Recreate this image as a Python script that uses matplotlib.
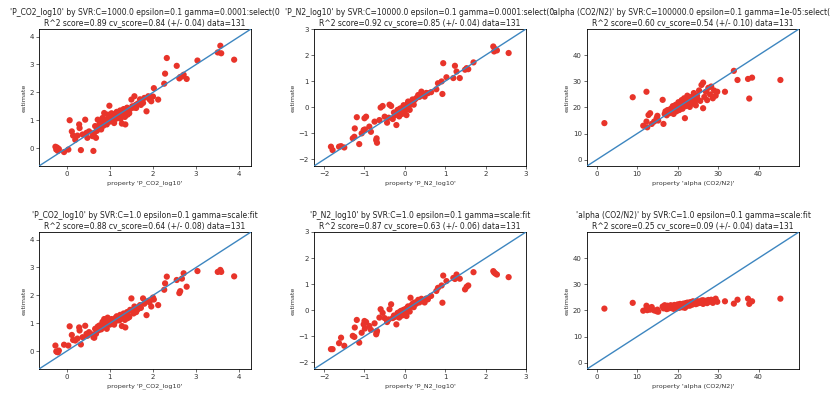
import matplotlib
matplotlib.use("Agg")
import matplotlib.pyplot as plt

# ---- column 1: P_CO2_log10 ----
co2_true = [-0.26, -0.24, -0.22, -0.20, -0.18, -0.06, 0.04, 0.07, 0.12, 0.15,
            0.20, 0.25, 0.29, 0.30, 0.33, 0.37, 0.43, 0.46, 0.48, 0.52,
            0.60, 0.62, 0.64, 0.66, 0.68, 0.70, 0.72, 0.74, 0.76, 0.78,
            0.80, 0.82, 0.83, 0.85, 0.87, 0.88, 0.90, 0.91, 0.93, 0.95,
            0.97, 0.99, 1.00, 1.02, 1.04, 1.06, 1.08, 1.10, 1.12, 1.14,
            1.16, 1.18, 1.20, 1.22, 1.24, 1.25, 1.27, 1.28, 1.30, 1.32,
            1.33, 1.35, 1.36, 1.38, 1.40, 1.41, 1.43, 1.45, 1.47, 1.50,
            1.52, 1.55, 1.57, 1.60, 1.61, 1.65, 1.70, 1.72, 1.77, 1.80,
            1.85, 1.89, 1.92, 1.96, 2.00, 2.02, 2.12, 2.26, 2.28, 2.32,
            2.55, 2.61, 2.63, 2.67, 2.71, 2.78, 3.03, 3.50, 3.56, 3.58, 3.88]
co2_svr_tuned = [0.05, -0.05, 0.02, -0.10, -0.03, -0.14, -0.05, 1.00, 0.60, 0.45,
                 0.30, 0.45, 0.85, 0.72, -0.07, 0.49, 1.02, 0.55, 0.37, 0.60,
                 0.43, -0.10, 0.55, 0.79, 0.37, 0.62, 1.02, 0.70, 0.85, 0.95,
                 0.67, 0.90, 1.08, 0.80, 1.26, 1.00, 0.92, 1.02, 0.85, 1.20,
                 1.05, 1.52, 0.95, 1.10, 1.25, 1.00, 1.15, 0.90, 1.20, 1.05,
                 1.30, 1.10, 1.22, 1.15, 1.35, 1.05, 1.25, 0.88, 1.18, 1.40,
                 1.28, 1.12, 0.85, 1.30, 1.45, 1.20, 1.35, 1.25, 1.40, 1.74,
                 1.50, 1.45, 1.86, 1.55, 1.44, 1.60, 1.75, 1.55, 1.62, 1.80,
                 1.32, 1.86, 1.75, 1.68, 1.85, 2.15, 1.74, 2.31, 2.67, 3.23,
                 2.95, 2.50, 2.55, 2.57, 2.63, 2.48, 3.14, 3.43, 3.67, 3.40, 3.17]
co2_svr_default = [0.20, -0.01, -0.03, -0.04, 0.02, 0.23, 0.20, 0.89, 0.58, 0.40,
                   0.38, 0.45, 0.85, 0.74, 0.24, 0.50, 0.91, 0.62, 0.55, 0.68,
                   0.60, 0.50, 0.48, 0.80, 0.62, 0.72, 0.88, 0.75, 0.92, 0.85,
                   0.78, 0.95, 1.05, 0.88, 1.15, 0.98, 0.90, 1.02, 0.80, 1.20,
                   1.08, 1.10, 0.95, 1.05, 1.15, 1.00, 1.10, 0.95, 1.18, 1.08,
                   1.25, 1.12, 1.20, 1.10, 1.30, 1.15, 1.22, 0.90, 1.20, 1.35,
                   1.25, 1.12, 0.85, 1.30, 1.40, 1.18, 1.28, 1.22, 1.48, 1.89,
                   1.45, 1.35, 1.60, 1.55, 1.40, 1.50, 1.65, 1.55, 1.89, 1.70,
                   1.29, 1.80, 1.75, 1.60, 1.92, 1.85, 1.65, 2.20, 2.43, 2.67,
                   2.55, 2.08, 2.15, 2.60, 2.79, 2.31, 2.87, 2.84, 2.91, 2.84, 2.68]

# ---- column 2: P_N2_log10 ----
n2_true = [-1.83, -1.79, -1.63, -1.58, -1.50, -1.29, -1.25, -1.24, -1.19, -1.13,
           -1.07, -1.02, -1.00, -0.96, -0.99, -0.88, -0.84, -0.75, -0.71, -0.69,
           -0.70, -0.63, -0.60, -0.55, -0.50, -0.44, -0.40, -0.38, -0.34, -0.30,
           -0.27, -0.24, -0.21, -0.18, -0.17, -0.14, -0.12, -0.09, -0.07, -0.05,
           -0.03, 0.00, 0.02, 0.04, 0.06, 0.08, 0.10, 0.12, 0.14, 0.16,
           0.19, 0.22, 0.24, 0.28, 0.33, 0.36, 0.41, 0.45, 0.49, 0.53,
           0.57, 0.65, 0.78, 0.82, 0.91, 0.93, 0.95, 1.03, 1.20, 1.24,
           1.28, 1.36, 1.49, 1.53, 1.57, 1.70, 2.19, 2.21, 2.24, 2.28, 2.57]
n2_svr_tuned = [-1.51, -1.64, -1.51, -1.49, -1.54, -1.19, -1.13, -0.81, -0.38, -1.41,
                -1.00, -0.87, -0.42, -0.36, -0.85, -0.74, -0.94, -0.55, -1.26, -1.36,
                -1.19, -0.49, -0.01, 0.05, -0.36, -0.59, -0.40, 0.10, 0.05, -0.45,
                -0.20, -0.30, -0.68, -0.10, -0.17, -0.35, -0.05, -0.04, -0.25, -0.23,
                0.08, -0.15, 0.00, -0.30, 0.12, 0.22, 0.05, -0.10, 0.20, 0.15,
                0.30, 0.10, 0.28, 0.35, 0.47, 0.40, 0.60, 0.50, 0.41, 0.55,
                0.54, 0.58, 0.69, 0.92, 0.99, 0.51, 1.69, 1.15, 1.12, 1.59,
                1.37, 1.12, 1.44, 1.50, 1.46, 1.72, 2.33, 2.14, 2.23, 2.18, 2.08]
n2_svr_default = [-1.49, -1.49, -1.26, -1.05, -1.36, -0.98, -1.02, -0.66, -0.37, -1.24,
                  -0.86, -0.54, -0.41, -0.45, -0.70, -0.60, -0.75, -0.50, -0.92, -0.79,
                  -0.85, -0.28, 0.04, -0.10, -0.30, -0.45, -0.35, 0.04, 0.23, -0.30,
                  -0.20, -0.25, -0.54, -0.10, -0.15, -0.28, -0.05, -0.02, -0.20, -0.15,
                  0.02, -0.10, 0.05, -0.22, 0.10, 0.15, 0.08, -0.05, 0.48, 0.18,
                  0.25, 0.12, 0.30, 0.25, 0.40, 0.30, 0.44, 0.35, 0.30, 0.45,
                  0.42, 0.55, 0.74, 0.86, 0.95, 0.29, 1.33, 1.12, 1.24, 1.20,
                  1.37, 1.21, 0.80, 0.90, 0.95, 1.46, 1.50, 1.45, 1.41, 1.37, 1.27]

# ---- column 3: alpha (CO2/N2) ----
alpha_true = [1.9, 8.9, 11.5, 12.3, 12.5, 12.3, 12.8, 13.2, 13.6, 14.2,
              14.8, 15.0, 15.2, 16.3, 16.5, 16.8, 17.0, 17.3, 17.5, 17.8,
              18.0, 18.3, 18.5, 18.8, 19.0, 19.2, 19.5, 19.7, 20.0, 20.2,
              20.4, 20.6, 20.8, 21.0, 21.2, 21.4, 21.6, 21.8, 22.0, 22.2,
              22.4, 22.6, 22.8, 23.0, 23.2, 23.4, 23.6, 23.8, 24.0, 24.2,
              24.5, 24.8, 25.0, 25.3, 25.6, 25.9, 26.3, 26.3, 26.6, 27.0,
              27.3, 27.6, 28.0, 28.3, 28.7, 29.0, 29.4, 29.8, 31.7, 33.9,
              34.8, 37.4, 37.7, 38.4, 45.4]
alpha_svr_tuned = [14.0, 23.9, 13.0, 26.0, 12.4, 14.6, 17.1, 17.8, 13.7, 14.6,
                   15.9, 16.8, 15.0, 22.9, 13.7, 17.5, 18.5, 17.0, 19.0, 18.2,
                   17.8, 19.5, 18.8, 20.5, 17.5, 19.8, 21.0, 18.5, 20.2, 22.0,
                   19.0, 21.5, 20.0, 22.8, 19.5, 21.2, 23.5, 15.9, 20.5, 22.0,
                   24.5, 21.0, 23.0, 20.2, 22.5, 24.0, 21.5, 23.2, 25.5, 22.0,
                   20.8, 24.5, 23.0, 26.5, 22.5, 28.6, 19.7, 29.5, 24.0, 26.0,
                   22.8, 27.5, 25.0, 28.0, 23.5, 26.5, 24.5, 26.0, 26.0, 34.0,
                   30.5, 30.9, 23.4, 31.4, 30.5]
alpha_svr_default = [20.7, 22.9, 19.9, 21.8, 20.1, 20.6, 21.0, 20.3, 21.3, 20.0,
                     19.7, 20.3, 19.5, 21.5, 20.8, 22.0, 21.2, 20.5, 21.8, 20.8,
                     21.5, 22.0, 20.9, 21.6, 20.6, 22.1, 21.3, 20.8, 22.3, 21.5,
                     21.0, 22.5, 21.8, 22.0, 21.2, 22.6, 22.2, 21.0, 22.8, 21.6,
                     23.0, 22.2, 22.9, 21.8, 23.2, 22.6, 22.2, 23.5, 22.8, 23.0,
                     22.4, 23.6, 22.7, 23.3, 22.9, 23.8, 22.5, 23.9, 23.1, 23.7,
                     22.8, 24.0, 23.4, 24.1, 22.9, 23.8, 24.5, 23.3, 23.5, 22.6,
                     24.1, 24.5, 22.5, 23.5, 24.5]

prop_names = ["'P_CO2_log10'", "'P_N2_log10'", "'alpha (CO2/N2)'"]
lims = [(-0.64, 4.27), (-2.25, 3.0), (-2.4, 50.0)]
yticks = [[0, 1, 2, 3, 4], [-2, -1, 0, 1, 2, 3], [0, 10, 20, 30, 40]]
xticks = [[0, 1, 2, 3, 4], [-2, -1, 0, 1, 2, 3], [0, 10, 20, 30, 40]]

top_titles = [
    "'P_CO2_log10' by SVR:C=1000.0 epsilon=0.1 gamma=0.0001:select(0\n"
    "R^2 score=0.89 cv_score=0.84 (+/- 0.04) data=131",
    "'P_N2_log10' by SVR:C=10000.0 epsilon=0.1 gamma=0.0001:select(0\n"
    "R^2 score=0.92 cv_score=0.85 (+/- 0.04) data=131",
    "'alpha (CO2/N2)' by SVR:C=100000.0 epsilon=0.1 gamma=1e-05:select(0\n"
    "R^2 score=0.60 cv_score=0.54 (+/- 0.10) data=131",
]
bottom_titles = [
    "'P_CO2_log10' by SVR:C=1.0 epsilon=0.1 gamma=scale:fit\n"
    "R^2 score=0.88 cv_score=0.64 (+/- 0.08) data=131",
    "'P_N2_log10' by SVR:C=1.0 epsilon=0.1 gamma=scale:fit\n"
    "R^2 score=0.87 cv_score=0.63 (+/- 0.06) data=131",
    "'alpha (CO2/N2)' by SVR:C=1.0 epsilon=0.1 gamma=scale:fit\n"
    "R^2 score=0.25 cv_score=0.09 (+/- 0.04) data=131",
]

trues = [co2_true, n2_true, alpha_true]
tuned = [co2_svr_tuned, n2_svr_tuned, alpha_svr_tuned]
default = [co2_svr_default, n2_svr_default, alpha_svr_default]

W, H = 830, 397
fig = plt.figure(figsize=(W / 100, H / 100), dpi=100)
fig.patch.set_facecolor("white")

col_left = [39, 314, 587]
row_top = [29, 232]
ax_w, ax_h = 212, 137

for r, (ests, titles) in enumerate([(tuned, top_titles), (default, bottom_titles)]):
    for c in range(3):
        ax = fig.add_axes([col_left[c] / W, 1 - (row_top[r] + ax_h) / H, ax_w / W, ax_h / H])
        lo, hi = lims[c]
        ax.scatter(trues[c], ests[c], s=20, color="#e8342a", edgecolors="none", zorder=2)
        ax.plot([lo, hi], [lo, hi], color="#3d86c0", linewidth=1.0, zorder=3)
        ax.set_xlim(lo, hi)
        ax.set_ylim(lo, hi)
        ax.set_xticks(xticks[c])
        ax.set_yticks(yticks[c])
        ax.tick_params(labelsize=5.0, length=2.2, width=0.5, pad=1.5, colors="#333333")
        for sp in ax.spines.values():
            sp.set_linewidth(0.6)
        ax.set_xlabel("property " + prop_names[c], fontsize=4.6, labelpad=2.5, color="#333333")
        ax.set_ylabel("estimate", fontsize=4.6, labelpad=2, color="#333333")
        ax.set_title(titles[c], fontsize=5.5, pad=2.5, linespacing=1.15, color="#222222")

fig.savefig("out.png", dpi=100, facecolor="white")
